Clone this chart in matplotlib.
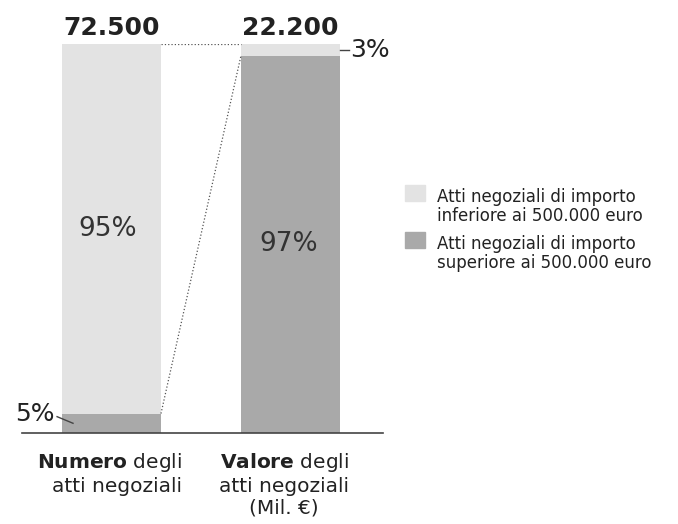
import matplotlib
matplotlib.use('Agg')
import matplotlib.pyplot as plt
from matplotlib.patches import Rectangle

plt.rcParams['font.family'] = ['DejaVu Sans']
plt.rcParams['mathtext.fontset'] = 'dejavusans'

# data
categories = [r"$\bf{Numero}$ degli" + "\natti negoziali",
              r"$\bf{Valore}$ degli" + "\natti negoziali\n(Mil. €)"]
totals = ["72.500", "22.200"]
share_sup = [5, 97]    # superiore ai 500.000 euro (bottom, dark)
share_inf = [95, 3]    # inferiore ai 500.000 euro (top, light)
legend_labels = ["Atti negoziali di importo\ninferiore ai 500.000 euro",
                 "Atti negoziali di importo\nsuperiore ai 500.000 euro"]

light = '#e3e3e3'
dark = '#a9a9a9'
textc = '#222222'

fig = plt.figure(figsize=(6.78, 5.24), dpi=100)
ax = fig.add_axes([22/678, 1 - 433/524, 361/678, 389/524])

x = [0, 1]
w = 0.553
ax.bar(x, share_sup, width=w, color=dark)
ax.bar(x, share_inf, width=w, bottom=share_sup, color=light)

ax.set_xlim(-0.5, 1.517)
ax.set_ylim(0, 100)
for s in ['top', 'right', 'left']:
    ax.spines[s].set_visible(False)
ax.spines['bottom'].set_color('#444444')
ax.spines['bottom'].set_linewidth(1.2)
ax.set_xticks([])
ax.set_yticks([])

# connecting dotted lines
ax.plot([w/2, 1 - w/2], [100, 100], ls=':', color='#555555', lw=0.9)
ax.plot([w/2, 1 - w/2], [share_sup[0], share_sup[1]], ls=':', color='#555555', lw=0.9)

# totals
for xi, t in zip(x, totals):
    ax.text(xi, 102.3, t, ha='center', va='baseline', fontsize=18,
            fontweight='bold', color=textc)

# inner percentages
ax.text(-0.02, share_sup[0] + share_inf[0] / 2, f"{share_inf[0]}%", ha='center',
        va='center', fontsize=19, color='#333333')
ax.text(0.99, share_sup[1] / 2, f"{share_sup[1]}%", ha='center', va='center',
        fontsize=19, color='#333333')

# small annotations
ax.plot([1 + w/2, 1 + w/2 + 0.05], [98.5, 98.5], color='#444444', lw=1, clip_on=False)
ax.text(1 + w/2 + 0.055, 98.5, f"{share_inf[1]}%", ha='left', va='center',
        fontsize=18, color=textc)
ax.plot([-0.304, -0.215], [4.2, 2.5], color='#444444', lw=1, clip_on=False)
ax.text(-0.32, 4.9, f"{share_sup[0]}%", ha='right', va='center',
        fontsize=18, color=textc)

# category labels
ax.text(0.394, -4.6, categories[0], ha='right', va='top', fontsize=14.5,
        color=textc, multialignment='right', linespacing=1.2)
ax.text(0.964, -4.6, categories[1], ha='center', va='top', fontsize=14.5,
        color=textc, multialignment='center', linespacing=1.2)

# legend
for i, (lab, col) in enumerate(zip(legend_labels, [light, dark])):
    y0 = 1 - (201 + i * 47) / 524
    fig.patches.append(Rectangle((405/678, y0), 20/678, 16/524, color=col,
                                 transform=fig.transFigure))
    fig.text(437/678, 1 - (188 + i * 47) / 524, lab, ha='left', va='top',
             fontsize=12, color=textc, linespacing=1.05)

fig.savefig('out.png', dpi=100)
